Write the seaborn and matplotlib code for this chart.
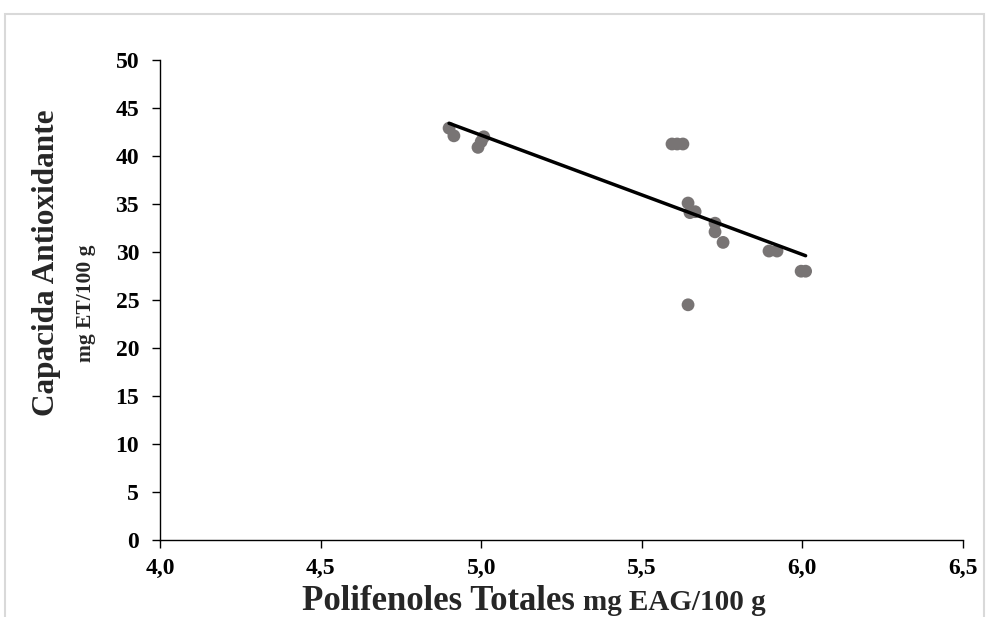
import numpy as np
import pandas as pd
import matplotlib
matplotlib.use('Agg')
import matplotlib.pyplot as plt
import seaborn as sns
from matplotlib.patches import Rectangle

# valores
polifenoles = [4.90, 4.915, 4.99, 5.00, 5.008, 5.594, 5.61, 5.628, 5.644, 5.65,
               5.666, 5.728, 5.728, 5.753, 5.644, 5.896, 5.921, 5.996, 6.01]
capacidad = [42.9, 42.1, 40.9, 41.5, 42.0, 41.25, 41.25, 41.25, 35.1, 34.1,
             34.2, 33.0, 32.1, 31.0, 24.5, 30.1, 30.1, 28.0, 28.0]
x_ticks = [4.0, 4.5, 5.0, 5.5, 6.0, 6.5]
x_tick_labels = ['4,0', '4,5', '5,0', '5,5', '6,0', '6,5']
y_ticks = [0, 5, 10, 15, 20, 25, 30, 35, 40, 45, 50]

df = pd.DataFrame({'x': polifenoles, 'y': capacidad})

sns.set_style('white')
plt.rcParams['font.family'] = ['Liberation Serif', 'DejaVu Serif']
plt.rcParams['font.weight'] = 'bold'

fig = plt.figure(figsize=(9.89, 6.17), dpi=100)
ax = fig.add_axes([160 / 989, 77 / 617, 803 / 989, 480 / 617])

sns.scatterplot(data=df, x='x', y='y', ax=ax, color='#787474', s=85,
                edgecolor='none', zorder=2)
sns.regplot(data=df, x='x', y='y', ax=ax, scatter=False, ci=None, truncate=True,
            line_kws={'color': 'black', 'linewidth': 2.5, 'zorder': 3})

ax.set_xlim(4.0, 6.5)
ax.set_ylim(0, 50)
ax.set_xticks(x_ticks)
ax.set_xticklabels(x_tick_labels)
ax.set_yticks(y_ticks)
ax.tick_params(direction='out', length=6, width=1, labelsize=17, colors='black',
               left=True, bottom=True)
ax.tick_params(axis='y', pad=9)
ax.tick_params(axis='x', pad=7)
for lab in ax.get_xticklabels() + ax.get_yticklabels():
    lab.set_fontweight('bold')
ax.set_xlabel('')
ax.set_ylabel('')
for s in ['top', 'right']:
    ax.spines[s].set_visible(False)
for s in ['left', 'bottom']:
    ax.spines[s].set_color('black')
    ax.spines[s].set_linewidth(1)

# titulos de ejes
fig.text(302 / 989, 7 / 617, 'Polifenoles Totales', fontsize=25, fontweight='bold',
         ha='left', va='baseline')
fig.text(583 / 989, 7 / 617, 'mg EAG/100 g', fontsize=21, fontweight='bold',
         ha='left', va='baseline')
fig.text(47 / 989, 1 - 263 / 617, 'Capacida Antioxidante', fontsize=22.5,
         fontweight='bold', rotation=90, ha='center', va='center')
fig.text(86 / 989, 1 - 303 / 617, 'mg ET/100 g', fontsize=15.5,
         fontweight='bold', rotation=90, ha='center', va='center')

# borde del area del grafico
fig.patches.append(Rectangle((5 / 989, -0.05), 979 / 989, 1 - 14 / 617 + 0.05,
                             transform=fig.transFigure, fill=False,
                             edgecolor='#d9d9d9', linewidth=1.5))

fig.savefig('out.png', dpi=100)
